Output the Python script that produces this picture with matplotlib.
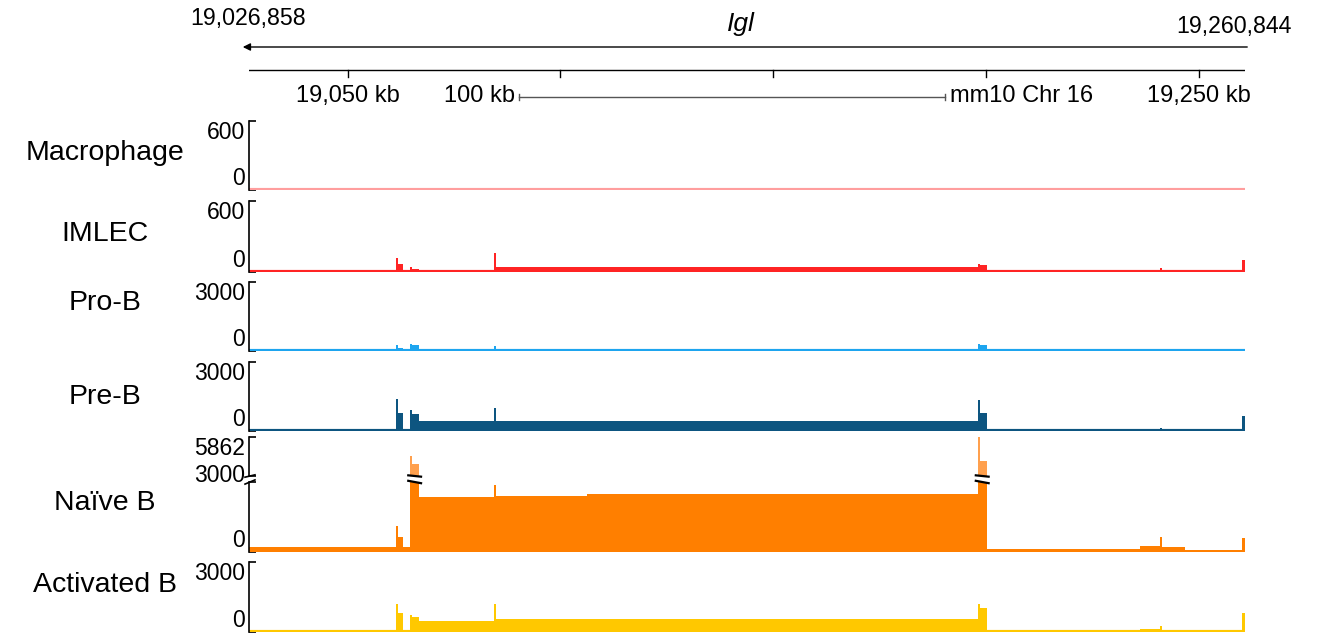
import matplotlib
matplotlib.use('Agg')
import numpy as np
import matplotlib.pyplot as plt

plt.rcParams['font.family'] = ['Liberation Sans', 'DejaVu Sans']

# view window (bp)
view_start = 19026858
view_end = 19260844

# segment edges shared by all tracks (kb)
edges_kb = [19026.86, 19061.43, 19061.90, 19063.07, 19064.72, 19065.19,
            19066.83, 19084.47, 19084.94, 19106.34, 19198.05, 19198.52,
            19200.17, 19236.15, 19240.85, 19241.32, 19246.73, 19260.14,
            19260.84]

# coverage per segment
macrophage = [4, 12, 6, 4, 10, 6, 5, 12, 5, 5, 14, 10, 4, 4, 5, 4, 4, 10]
imlec = [8, 120, 65, 4, 40, 28, 14, 160, 45, 45, 70, 55, 14, 16, 35, 14, 12, 100]
pro_b = [20, 260, 150, 15, 300, 280, 90, 200, 90, 90, 320, 260, 25, 25, 40, 25, 20, 60]
pre_b = [40, 1400, 800, 40, 930, 750, 450, 1000, 450, 450, 1330, 800, 70, 60, 120, 35, 30, 650]
naive_b = [200, 1125, 660, 200, 4500, 3900, 2375, 2875, 2420, 2500, 5862, 4100, 140, 260, 660, 230, 100, 580]
activated_b = [60, 1220, 800, 50, 720, 650, 460, 1220, 550, 550, 1220, 1050, 100, 110, 250, 100, 90, 800]

track_names = ['Macrophage', 'IMLEC', 'Pro-B', 'Pre-B', 'Naïve B', 'Activated B']
track_data = [macrophage, imlec, pro_b, pre_b, naive_b, activated_b]
track_max = [600, 600, 3000, 3000, 5862, 3000]
naive_break = 3000

ruler_ticks = [19050000, 19100000, 19150000, 19200000, 19250000]
ruler_labels = {19050000: '19,050 kb', 19250000: '19,250 kb'}
scale_bar_start = 19090350
scale_bar_len = 100000

colors = ['#ff9e9e', '#ff2424', '#1ea5ef', '#0d5580', '#ff7f00', '#ffc800']
naive_upper_color = '#ffa04d'

# layout in pixels
W, H = 1317, 635
L_px, R_px = 249, 1245
track_px = [(121, 190), (201, 272), (282, 351), (362, 431), (437, 552), (562, 632)]
label_y = [153, 234, 303, 397, 503, 585]
naive_upper_px = (437, 476)
naive_lower_px = (482, 552)

edges = np.array(edges_kb) * 1000
span = view_end - view_start
bp_per_px = span / (R_px - L_px)

fig = plt.figure(figsize=(W / 100, H / 100), dpi=100)


def rect(top, bottom):
    return [L_px / W, 1 - bottom / H, (R_px - L_px) / W, (bottom - top) / H]


def style(ax, ticks, labels, vas):
    ax.set_xlim(view_start, view_end)
    for s in ['top', 'right', 'bottom']:
        ax.spines[s].set_visible(False)
    ax.spines['left'].set_linewidth(1.2)
    ax.set_xticks([])
    ax.set_yticks(ticks)
    ax.set_yticklabels(labels)
    ax.tick_params(axis='y', direction='in', length=5, width=1.2, pad=3, labelsize=16.5)
    for lab, va in zip(ax.get_yticklabels(), vas):
        lab.set_va(va)


for i, (name, vals) in enumerate(zip(track_names, track_data)):
    c = colors[i]
    top, bottom = track_px[i]
    fig.text(105 / W, 1 - label_y[i] / H, name, ha='center', va='center', fontsize=20.5)
    if name == 'Naïve B':
        axu = fig.add_axes(rect(*naive_upper_px))
        axu.stairs(vals, edges, fill=True, color=naive_upper_color, lw=0.8)
        axu.set_ylim(naive_break, track_max[i])
        style(axu, [naive_break, track_max[i]], [str(naive_break), str(track_max[i])], ['center', 'top'])
        axl = fig.add_axes(rect(*naive_lower_px))
        axl.stairs(vals, edges, fill=True, color=c, lw=0.8)
        axl.axhline(0, color=c, lw=2.5)
        axl.set_ylim(0, naive_break)
        style(axl, [0, naive_break], ['0', ''], ['bottom', 'center'])
        # break marks on the spine
        for ax_, yy in [(axu, 0), (axl, 1)]:
            ax_.plot([-0.004, 0.006], [yy - 0.03, yy + 0.03], transform=ax_.transAxes,
                     color='black', lw=1.2, clip_on=False)
        # break marks on peaks that go beyond the break
        vals_arr = np.array(vals)
        over = vals_arr > naive_break
        j = 0
        while j < len(over):
            if over[j]:
                k = j
                while k + 1 < len(over) and over[k + 1]:
                    k += 1
                x0 = edges[j] - 3 * bp_per_px
                x1 = edges[k + 1] + 3 * bp_per_px
                for ax_, yy in [(axu, 0.0), (axl, 1.0)]:
                    ax_.plot([x0, x1], [yy + 0.02, yy - 0.02], transform=ax_.get_xaxis_transform(),
                             color='black', lw=1.6, clip_on=False, solid_capstyle='butt')
                j = k + 1
            else:
                j += 1
    else:
        ax = fig.add_axes(rect(top, bottom))
        ax.stairs(vals, edges, fill=True, color=c, lw=0.8)
        ax.axhline(0, color=c, lw=3)
        ax.set_ylim(0, track_max[i])
        style(ax, [0, track_max[i]], ['0', str(track_max[i])], ['bottom', 'top'])

# header: gene arrow, ruler, scale bar
axh = fig.add_axes(rect(0, 115))
axh.set_xlim(view_start, view_end)
axh.set_ylim(115, 0)
axh.axis('off')
axh.annotate('', xy=(view_start - 9 * bp_per_px, 47), xytext=(view_end + 5 * bp_per_px, 47),
             arrowprops=dict(arrowstyle='-|>', color='black', lw=1, mutation_scale=11),
             annotation_clip=False)
axh.plot([view_start, view_end], [70, 70], color='black', lw=1)
for t in ruler_ticks:
    axh.plot([t, t], [70, 77], color='black', lw=1)
    if t in ruler_labels:
        axh.text(t, 96, ruler_labels[t], ha='center', va='center', fontsize=17)
sb0, sb1 = scale_bar_start, scale_bar_start + scale_bar_len
axh.plot([sb0, sb1], [97, 97], color='#555555', lw=1)
for xx in (sb0, sb1):
    axh.plot([xx, xx], [94, 100], color='#555555', lw=1)
axh.text(sb0 - 4 * bp_per_px, 96, '100 kb', ha='right', va='center', fontsize=17)
axh.text(sb1 + 5 * bp_per_px, 96, 'mm10 Chr 16', ha='left', va='center', fontsize=17)

fig.text(190 / W, 1 - 18 / H, '19,026,858', ha='left', va='center', fontsize=16.7)
fig.text(1292 / W, 1 - 27 / H, '19,260,844', ha='right', va='center', fontsize=16.7)
fig.text(741 / W, 1 - 24 / H, 'Igl', ha='center', va='center', fontsize=19, style='italic')

fig.savefig('out.png', dpi=100)
